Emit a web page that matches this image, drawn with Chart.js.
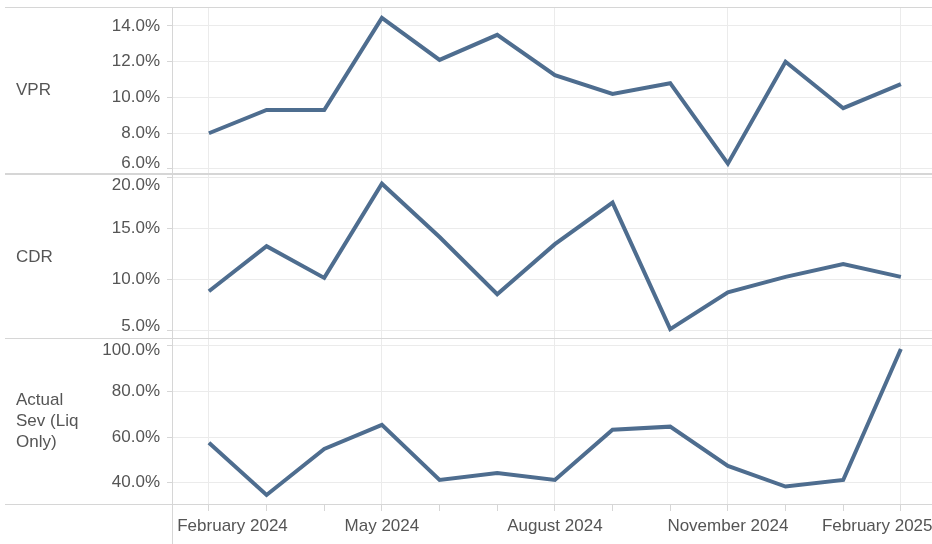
<!DOCTYPE html>
<html>
<head>
<meta charset="utf-8">
<script src="https://cdn.jsdelivr.net/npm/chart.js@4.4.1/dist/chart.umd.min.js"></script>
<style>
  body { margin: 0; width: 932px; height: 544px; overflow: hidden; background: #fff; font-family: "Liberation Sans", Arial, sans-serif; }
  .pane { position: absolute; left: 0; }
  .pane canvas { display: block; }
  .rowlabel { position: absolute; left: 16px; font-size: 17px; line-height: 21px; color: #555; z-index: 2; }
  .sep { position: absolute; left: 5px; width: 927px; height: 1px; background: #d6d6d6; z-index: 1; }
  .vline { position: absolute; left: 172px; top: 7px; width: 1px; height: 537px; background: #d6d6d6; z-index: 1; }
</style>
</head>
<body>
<div class="pane" style="top:7px"><canvas id="vpr-chart" width="932" height="167"></canvas></div>
<div class="pane" style="top:174px"><canvas id="cdr-chart" width="932" height="164"></canvas></div>
<div class="pane" style="top:338px"><canvas id="sev-chart" width="932" height="206"></canvas></div>

<div class="sep" style="top:7px"></div>
<div class="sep" style="top:173px;height:2px"></div>
<div class="sep" style="top:338px"></div>
<div class="sep" style="top:504px"></div>
<div class="vline"></div>

<div class="rowlabel" style="top:79px">VPR</div>
<div class="rowlabel" style="top:246px">CDR</div>
<div class="rowlabel" style="top:389px">Actual<br>Sev (Liq<br>Only)</div>

<script>
const months = ["February 2024", "March 2024", "April 2024", "May 2024", "June 2024", "July 2024",
    "August 2024", "September 2024", "October 2024", "November 2024", "December 2024", "January 2025", "February 2025"]

// percentages
const vpr = [8.0, 9.3, 9.3, 14.45, 12.1, 13.5, 11.25, 10.2, 10.8, 6.3, 12.0, 9.4, 10.75]
const cdr = [8.85, 13.25, 10.15, 19.35, 14.15, 8.55, 13.45, 17.5, 5.15, 8.75, 10.25, 11.5, 10.25]
const actualSev = [57.5, 34.6, 54.8, 65.4, 41.2, 44.3, 41.2, 63.2, 64.6, 47.4, 38.3, 41.2, 98.7]

const FONT = '"Liberation Sans", Arial, sans-serif'
const lineColor = "#4e6d8f"
const gridColor = "#ebebeb"
const tickMarkColor = "#d6d6d6"
const textColor = "#555"

// labels at the edge of a pane get nudged inside it (px, minus = up)
function makePane(id, values, yMin, yMax, step, nudge, showX) {
    const ctx = document.getElementById(id).getContext("2d")
    return new Chart(ctx, {
        type: "line",
        data: {
            datasets: [{
                data: values.map((v, i) => ({ x: i, y: v })),
                borderColor: lineColor,
                borderWidth: 4,
                pointRadius: 0,
                tension: 0,
                fill: false,
            }],
        },
        options: {
            responsive: false,
            animation: false,
            devicePixelRatio: 1,
            layout: { padding: 0, autoPadding: false },
            plugins: { legend: { display: false }, tooltip: { enabled: false } },
            scales: {
                x: {
                    type: "linear",
                    min: -0.64,
                    max: 12.54,
                    border: { display: false },
                    grid: {
                        color: (c) => (c.tick && c.tick.value % 3 === 0) ? gridColor : "rgba(0,0,0,0)",
                        tickColor: tickMarkColor,
                        drawTicks: showX,
                        tickLength: 7,
                    },
                    ticks: {
                        display: showX,
                        stepSize: 1,
                        includeBounds: false,
                        autoSkip: false,
                        maxRotation: 0,
                        padding: 5,
                        color: textColor,
                        font: { family: FONT, size: 17 },
                        callback: (v) => {
                            if (v % 3 !== 0) return ""
                            let label = months[v]
                            // keep first and last label off the pane edges
                            if (v === 0) label = " ".repeat(10) + label
                            if (v === months.length - 1) label = label + " ".repeat(10)
                            return label
                        },
                    },
                    afterFit: (scale) => {
                        scale.height = showX ? 40 : 0
                        scale.paddingLeft = 0
                        scale.paddingRight = 0
                    },
                },
                y: {
                    min: yMin,
                    max: yMax,
                    border: { display: false },
                    grid: { color: gridColor, tickColor: tickMarkColor, tickLength: 5 },
                    ticks: {
                        stepSize: step,
                        includeBounds: false,
                        padding: 7,
                        color: textColor,
                        font: (c) => {
                            const s = (c.tick && nudge[c.tick.value]) || 0
                            return { family: FONT, size: 17, lineHeight: s ? (Math.abs(s) * 2) + "px" : 1.2 }
                        },
                        callback: (v) => {
                            const t = v.toFixed(1) + "%"
                            const s = nudge[v] || 0
                            if (s < 0) return [t, ""]
                            if (s > 0) return ["", t]
                            return t
                        },
                    },
                    afterFit: (scale) => {
                        scale.width = 172
                        scale.paddingTop = 0
                        scale.paddingBottom = 0
                    },
                },
            },
        },
    })
}

makePane("vpr-chart", vpr, 5.72, 15.06, 2, { 6: -6 }, false)
makePane("cdr-chart", cdr, 4.28, 20.3, 5, { 20: 8, 5: -4 }, false)
makePane("sev-chart", actualSev, 30.65, 103.5, 20, { 100: 4 }, true)
</script>
</body>
</html>
